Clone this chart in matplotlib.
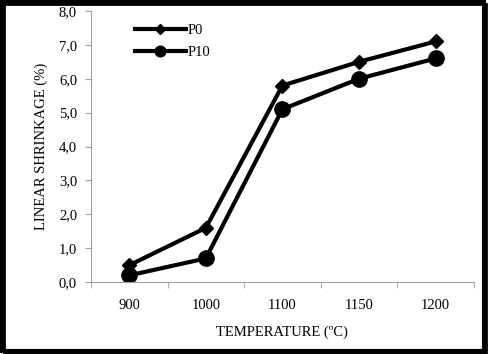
import numpy as np
import matplotlib.pyplot as plt
from matplotlib.patches import Rectangle

temps = ['900', '1000', '1100', '1150', '1200']
p0 = [0.5, 1.6, 5.8, 6.5, 7.1]
p10 = [0.2, 0.7, 5.1, 6.0, 6.6]

plt.rcParams['font.family'] = ['Liberation Serif', 'DejaVu Serif']
plt.rcParams['font.size'] = 10.5

fig = plt.figure(figsize=(4.89, 3.54), dpi=100)
ax = fig.add_axes([0.186, 0.203, 0.783, 0.766])

x = np.arange(len(temps))
ax.plot(x, p0, color='black', lw=3, marker='D', ms=7, label='P0')
ax.plot(x, p10, color='black', lw=3, marker='o', ms=11, label='P10')

ax.set_xlim(-0.5, len(temps) - 0.5)
ax.set_ylim(0, 8)
ax.set_yticks(np.arange(0, 9, 1))
ax.set_yticklabels([f'{v:.1f}'.replace('.', ',') for v in range(9)])
ax.set_xticks(x)
ax.set_xticklabels(temps)
ax.set_xticks(np.arange(-0.5, len(temps), 1), minor=True)
ax.tick_params(axis='x', which='major', length=0, pad=12)
ax.tick_params(axis='x', which='minor', length=4, color='#a0a0a0', direction='out')
ax.tick_params(axis='y', length=4, color='#a0a0a0', pad=6)
for s in ['top', 'right']:
    ax.spines[s].set_visible(False)
for s in ['left', 'bottom']:
    ax.spines[s].set_color('#a0a0a0')

ax.set_xlabel('TEMPERATURE (ºC)', labelpad=10)
ax.set_ylabel('LINEAR SHRINKAGE (%)', labelpad=8)

leg = ax.legend(loc='upper left', bbox_to_anchor=(0.08, 1.0), frameon=False,
                handlelength=3.5, handletextpad=0.1, labelspacing=0.6,
                markerscale=0.7)

# page-style border with shadow
fig.patches.append(Rectangle((0.004, 0.008), 0.985, 0.986, transform=fig.transFigure,
                             fill=False, edgecolor='black', lw=3))
fig.patches.append(Rectangle((0.008, 0.003), 0.985, 0.986, transform=fig.transFigure,
                             fill=False, edgecolor='black', lw=2, zorder=-1))

fig.savefig('out.png', dpi=100)
